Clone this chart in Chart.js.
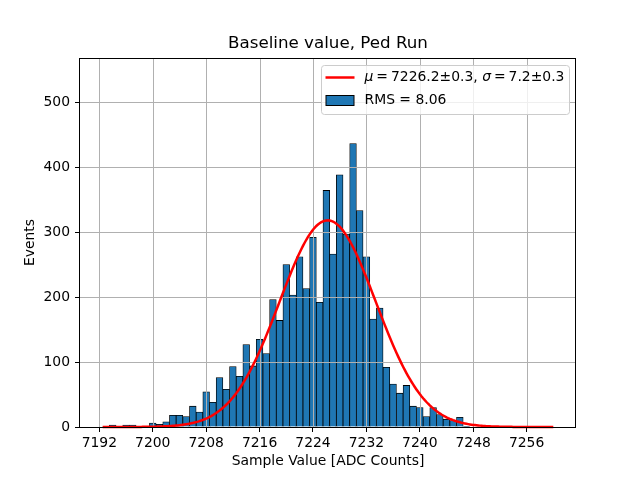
<!DOCTYPE html>
<html>
<head>
<meta charset="utf-8">
<script src="https://cdn.jsdelivr.net/npm/chart.js@4.4.1/dist/chart.umd.min.js"></script>
<style>
  html, body { margin: 0; padding: 0; background: #fff; }
  #wrap { width: 640px; height: 480px; }
</style>
</head>
<body>
<div id="wrap"><canvas id="histChart" width="640" height="480"></canvas></div>
<script>
// histogram bins (1 ADC count wide) and events per bin
const binCenters = [
  7193, 7194, 7195, 7196, 7197, 7198, 7199, 7200, 7201, 7202,
  7203, 7204, 7205, 7206, 7207, 7208, 7209, 7210, 7211, 7212,
  7213, 7214, 7215, 7216, 7217, 7218, 7219, 7220, 7221, 7222,
  7223, 7224, 7225, 7226, 7227, 7228, 7229, 7230, 7231, 7232,
  7233, 7234, 7235, 7236, 7237, 7238, 7239, 7240, 7241, 7242,
  7243, 7244, 7245, 7246, 7247
];
const eventCounts = [
  1, 3, 0, 3, 3, 0, 0, 6, 4, 8,
  18, 18, 16, 32, 23, 54, 38, 76, 58, 93,
  78, 127, 94, 135, 113, 196, 164, 250, 203, 262,
  213, 292, 192, 364, 266, 388, 297, 436, 333, 262,
  166, 183, 92, 66, 52, 64, 32, 30, 16, 30,
  19, 12, 10, 15, 1
];
const xTickValues = [7192, 7200, 7208, 7216, 7224, 7232, 7240, 7248, 7256];
const yTickValues = [0, 100, 200, 300, 400, 500];

// gaussian fit (from the legend), drawn over this range
const fitMu = 7226.2;
const fitSigma = 7.2;
const fitPeak = 318;
const fitRange = [7192.5, 7260];

// legend pieces: [text, italic, gap after]
const fitLabel = [
  ['\u03bc', true, 3], ['=', false, 3], ['7226.2\u00b10.3, ', false, 0],
  ['\u03c3', true, 3], ['=', false, 3], ['7.2\u00b10.3', false, 0]
];
const rmsLabel = 'RMS = 8.06';

const fontFamily = '"DejaVu Sans", sans-serif';
const barColor = '#1f77b4';

const fitPoints = [];
for (let x = fitRange[0]; x <= fitRange[1] + 1e-9; x += 0.25) {
    const z = (x - fitMu) / fitSigma;
    fitPoints.push({ x: x, y: fitPeak * Math.exp(-0.5 * z * z) });
}

// matplotlib puts the grid above the bars but under the fit line
const gridOverBars = {
    id: 'gridOverBars',
    afterDatasetDraw(chart, args) {
        if (args.index !== 1) return;
        const { ctx, chartArea: a, scales } = chart;
        ctx.save();
        ctx.strokeStyle = '#b0b0b0';
        ctx.lineWidth = 1;
        ctx.beginPath();
        xTickValues.forEach(v => {
            const px = Math.round(scales.x.getPixelForValue(v)) + 0.5;
            ctx.moveTo(px, a.top); ctx.lineTo(px, a.bottom);
        });
        yTickValues.forEach(v => {
            const py = Math.round(scales.y.getPixelForValue(v)) + 0.5;
            ctx.moveTo(a.left, py); ctx.lineTo(a.right, py);
        });
        ctx.stroke();
        ctx.restore();
    },
    afterDatasetsDraw(chart) {
        // axes frame on all four sides
        const { ctx, chartArea: a } = chart;
        ctx.save();
        ctx.strokeStyle = '#000';
        ctx.lineWidth = 1;
        const l = Math.round(a.left) - 0.5, t = Math.round(a.top) + 0.5;
        const r = Math.round(a.right) - 0.5, b = Math.round(a.bottom) + 0.5;
        ctx.strokeRect(l, t, r - l, b - t);
        ctx.restore();
    }
};

const fitLegend = {
    id: 'fitLegend',
    afterDraw(chart) {
        const { ctx, chartArea: a } = chart;
        const w = 248, h = 49;
        const x0 = Math.round(a.right - 7 - w) + 0.5;
        const y0 = Math.round(a.top + 7) + 0.5;
        ctx.save();
        ctx.beginPath();
        ctx.roundRect(x0, y0, w, h, 3);
        ctx.fillStyle = 'rgba(255,255,255,0.8)';
        ctx.fill();
        ctx.strokeStyle = '#cccccc';
        ctx.lineWidth = 1;
        ctx.stroke();

        // fit line sample
        const row1 = y0 + 12;
        const row2 = y0 + 35;
        ctx.strokeStyle = 'red';
        ctx.lineWidth = 2.5;
        ctx.beginPath();
        ctx.moveTo(x0 + 4, row1); ctx.lineTo(x0 + 33, row1);
        ctx.stroke();

        // histogram sample
        ctx.fillStyle = barColor;
        ctx.fillRect(x0 + 4.5, row2 - 5, 28, 10);
        ctx.strokeStyle = '#000';
        ctx.lineWidth = 1;
        ctx.strokeRect(x0 + 4.5, row2 - 5, 28, 10);

        ctx.fillStyle = '#000';
        ctx.textBaseline = 'middle';
        let tx = x0 + 43;
        fitLabel.forEach(([txt, italic, gap]) => {
            ctx.font = (italic ? 'italic ' : '') + '13.9px ' + fontFamily;
            ctx.fillText(txt, tx, row1);
            tx += ctx.measureText(txt).width + gap;
        });
        ctx.font = '13.9px ' + fontFamily;
        ctx.fillText(rmsLabel, x0 + 43, row2);
        ctx.restore();
    }
};

const ctx = document.getElementById('histChart');
new Chart(ctx, {
    type: 'bar',
    data: {
        datasets: [{
            type: 'line',
            data: fitPoints,
            borderColor: 'red',
            borderWidth: 2.5,
            pointRadius: 0,
            tension: 0,
            clip: { left: 0, top: 0, right: 0, bottom: 3 },
            order: 0
        }, {
            type: 'bar',
            data: binCenters.map((c, i) => ({ x: c, y: eventCounts[i] })),
            backgroundColor: barColor,
            borderColor: '#000',
            borderWidth: 0.8,
            barPercentage: 1,
            categoryPercentage: 1,
            order: 1
        }]
    },
    options: {
        responsive: false,
        animation: false,
        layout: { padding: { top: 0, right: 64, bottom: 0, left: 0 } },
        plugins: {
            legend: { display: false },
            tooltip: { enabled: false },
            title: {
                display: true,
                fullSize: false,
                text: 'Baseline value, Ped Run',
                color: '#000',
                font: { family: fontFamily, size: 16.7, weight: 'normal' },
                padding: { top: 34, bottom: 4 }
            }
        },
        scales: {
            x: {
                type: 'linear',
                min: 7189.1,
                max: 7263.4,
                offset: false,
                afterBuildTicks: s => { s.ticks = xTickValues.map(v => ({ value: v })); },
                afterFit: s => { s.height = 53; },
                ticks: {
                    autoSkip: false,
                    maxRotation: 0,
                    padding: 3,
                    color: '#000',
                    font: { family: fontFamily, size: 13.9 },
                    callback: v => String(v)
                },
                grid: { offset: false, drawOnChartArea: false, tickLength: 5, tickColor: '#000', tickWidth: 1 },
                border: { display: false },
                title: {
                    display: true,
                    text: 'Sample Value [ADC Counts]',
                    color: '#000',
                    font: { family: fontFamily, size: 13.9 },
                    padding: { top: 0, bottom: 10 }
                }
            },
            y: {
                type: 'linear',
                min: 0,
                max: 567.7,
                afterBuildTicks: s => { s.ticks = yTickValues.map(v => ({ value: v })); },
                afterFit: s => { s.width = 80; },
                ticks: {
                    padding: 5,
                    color: '#000',
                    font: { family: fontFamily, size: 13.9 },
                    callback: v => String(v)
                },
                grid: { drawOnChartArea: false, tickLength: 5, tickColor: '#000', tickWidth: 1 },
                border: { display: false },
                title: {
                    display: true,
                    text: 'Events',
                    color: '#000',
                    font: { family: fontFamily, size: 13.9 },
                    padding: { top: 22, bottom: 0 }
                }
            }
        }
    },
    plugins: [gridOverBars, fitLegend]
});
</script>
</body>
</html>
